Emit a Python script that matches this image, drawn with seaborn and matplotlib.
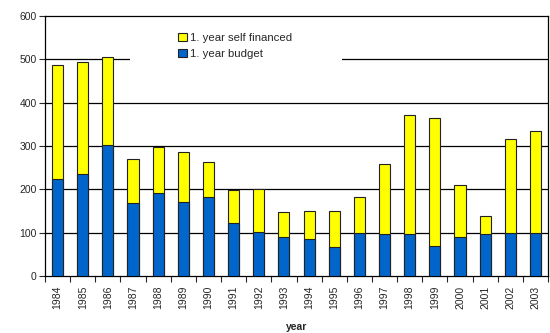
import matplotlib
matplotlib.use("Agg")
import matplotlib.pyplot as plt
import seaborn as sns
import pandas as pd
from matplotlib.patches import Rectangle, Patch

# data
years = [str(y) for y in range(1984, 2004)]
budget = [223, 235, 302, 169, 191, 170, 183, 123, 101, 89,
          85, 66, 99, 98, 98, 69, 89, 98, 99, 99]
self_financed = [264, 258, 203, 100, 107, 117, 79, 75, 99, 58,
                 64, 83, 84, 160, 274, 296, 122, 40, 216, 236]

df = pd.DataFrame({"year": years, "budget": budget, "self": self_financed})
df["total"] = df["budget"] + df["self"]

sns.set_style("white")
plt.rcParams["font.family"] = ["Liberation Sans", "DejaVu Sans"]

fig = plt.figure(figsize=(5.5, 3.33), dpi=100)
ax = fig.add_axes([0.0818, 0.1712, 0.9146, 0.7808])

# grid lines (Excel style, solid black)
for v in [100, 200, 300, 400, 500]:
    ax.axhline(v, color="black", lw=0.9, zorder=0)
# white box behind the legend hides part of the 500 line
ax.add_patch(Rectangle((0.169, 0.79), 0.422, 0.17, transform=ax.transAxes,
                       facecolor="white", edgecolor="none", zorder=0.5))

sns.barplot(data=df, x="year", y="total", color="#FFFF00", width=0.44,
            edgecolor="#222222", linewidth=0.8, saturation=1, ax=ax, zorder=2)
sns.barplot(data=df, x="year", y="budget", color="#0066CC", width=0.44,
            edgecolor="#222222", linewidth=0.8, saturation=1, ax=ax, zorder=3)

ax.set_ylim(0, 600)
ax.set_xlim(-0.5, len(years) - 0.5)
ax.set_yticks(range(0, 601, 100))
ax.tick_params(axis="y", labelsize=7.5, length=4, width=0.8, direction="out",
               left=True, pad=2)
ax.tick_params(axis="x", which="major", length=0, labelsize=7.5, pad=7)
ax.set_xticks([i + 0.5 for i in range(-1, len(years))], minor=True)
ax.tick_params(axis="x", which="minor", length=4, width=0.8, direction="out",
               bottom=True)
plt.setp(ax.get_xticklabels(), rotation=90)
ax.set_xlabel("year", fontsize=7.5, fontweight="bold", labelpad=9)
ax.set_ylabel("")

for s in ax.spines.values():
    s.set_visible(True)
    s.set_color("black")
    s.set_linewidth(0.9)

handles = [Patch(facecolor="#FFFF00", edgecolor="#222222", lw=0.8),
           Patch(facecolor="#0066CC", edgecolor="#222222", lw=0.8)]
ax.legend(handles, ["1. year self financed", "1. year budget"],
          loc="upper left", bbox_to_anchor=(0.245, 0.975), frameon=False,
          fontsize=8.2, handlelength=0.75, handleheight=0.75,
          handletextpad=0.3, labelspacing=0.55)

fig.savefig("out.png", dpi=100)
